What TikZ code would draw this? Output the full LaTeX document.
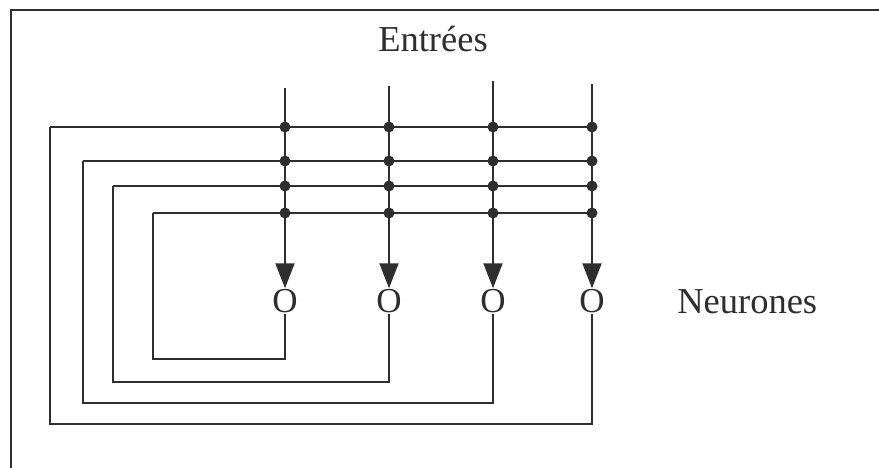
\documentclass[tikz,border=0pt]{standalone}
\usepackage{fontspec}
\setmainfont{Liberation Serif}
\usetikzlibrary{arrows.meta}
\usetikzlibrary{calc}

\begin{document}
\begin{tikzpicture}[x=1pt,y=-1pt,line width=1.9pt,color=black!82,
    >={Triangle[length=25pt,width=19pt]},
    neurone/.style={inner sep=0pt,font=\fontsize{35}{35}\selectfont},
    lbl/.style={font=\fontsize{36.5}{40}\selectfont},
    noeud/.style={circle,fill,inner sep=0pt,minimum size=11pt}]

    % Frame of the figure (only left and top edges show)
    \useasboundingbox (0,0) rectangle (879,468);
    \draw (11,468) -- (11,10) -- (879,10);

    % Labels
    \node[lbl,anchor=base] (entrees) at (433,52) {Entrées};
    \node[lbl,anchor=base west] (neurones) at (673,313) {Neurones};

    % Feedback rows (left end, right end)
    \foreach \i/\xl/\y in {1/50/127,2/83/161,3/113/186,4/153/213} {
        \coordinate (g\i) at (\xl,\y);
        \coordinate (d\i) at (591,\y);
        \draw (g\i) -- (d\i);
    }

    % Neurons with their input lines and loop bottoms
    \foreach \j/\x/\t/\b in {1/285/88/359,2/389/86/382,3/493/81/403,4/592/84/424} {
        \node[neurone] (n\j) at (\x,301) {O};
        \coordinate (e\j) at (\x,\t);
        \coordinate (b\j) at (\x,\b);
        \draw[->] (e\j) -- (n\j.north);
    }

    % Loops from each neuron back to a row
    \foreach \j/\r in {1/4,2/3,3/2,4/1}
        \draw (n\j.south) -- (b\j) -| (g\r);

    % Connection points
    \foreach \i in {1,...,4}
        \foreach \j in {1,...,4}
            \node[noeud] (p\i\j) at (e\j |- g\i) {};

\end{tikzpicture}
\end{document}
